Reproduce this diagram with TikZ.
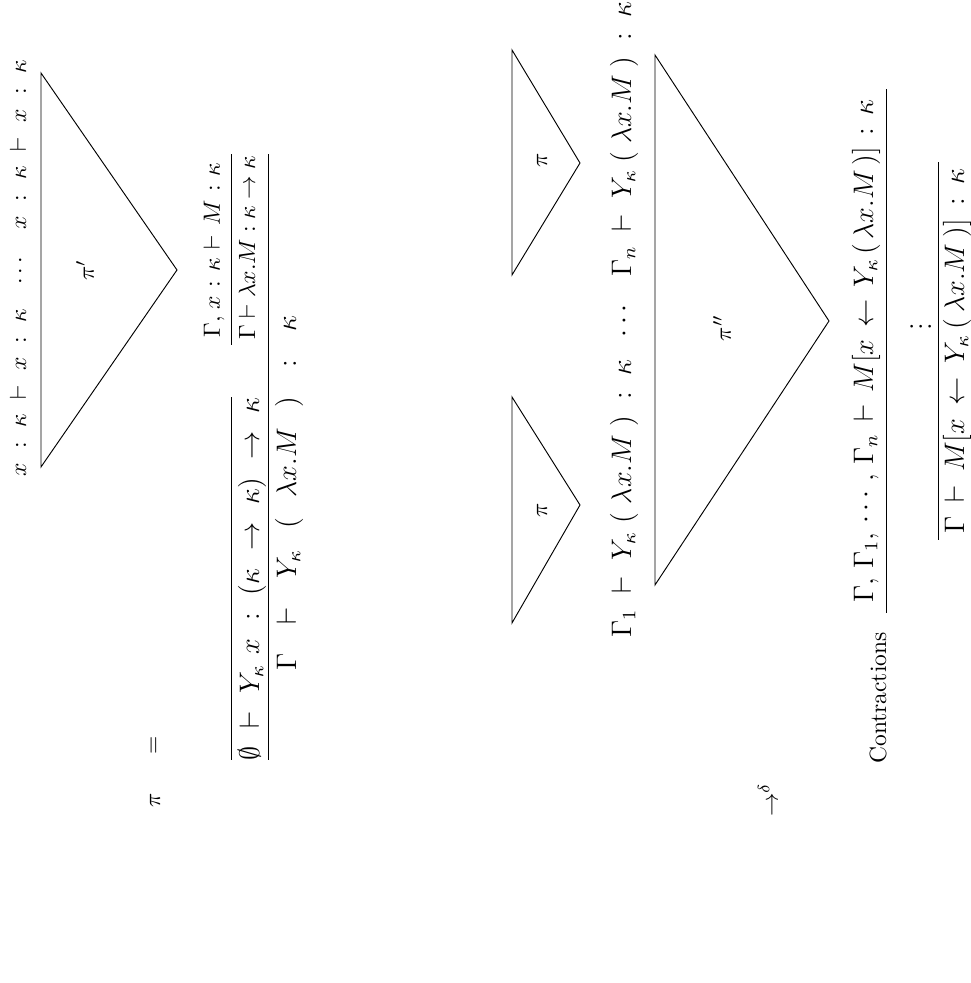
\documentclass[tikz,border=0pt]{standalone}
\usepackage{amsmath,amssymb}
\usetikzlibrary{positioning}
% one unit of the picture
\newdimen\px \px=0.4255pt
% a sequent stretched to a given length
\newcommand{\spread}[3][\normalsize]{\hbox to #2\px{#1$#3$}}

\begin{document}
\begin{tikzpicture}[x=0.4255pt,y=0.4255pt,rotate=90,transform shape]
    \useasboundingbox (0,0) rectangle (983,971);
    %% pi =
    \node (pi) at (183,816) {$\pi$};
    \node (eq) at (238,816) {$=$};
    %% leaves and pi'
    \node (leaves) at (715,953) {\hbox to 417\px{\spread{168}{x\hfil:\hfil\kappa\hfil\vdash\hfil x\hfil:\hfil\kappa}\hfil$\cdots$\hfil\spread{170}{x\hfil:\hfil\kappa\hfil\vdash\hfil x\hfil:\hfil\kappa}}};
    \draw (516,930)--(910,930)--(713,794)--cycle;
    \node (piprime) at (713,886) {$\pi'$};
    %% the Y rule
    \draw (223,740)--(586,740);
    \node (yax) at (404,719) {\spread[\large]{363}{\emptyset\hfil\vdash\hfil Y_\kappa\hfil x\hfil:\hfil(\kappa\hfil\to\hfil\kappa)\hfil\to\hfil\kappa}};
    %
    \node (body) at (733,757) {\spread{175}{\Gamma,\hfil x\hfil:\hfil\kappa\hfil\vdash\hfil M\hfil:\hfil\kappa}};
    \draw (638,740)--(829,740);
    \node (lam) at (728,724) {\spread{170}{\Gamma\hfil\vdash\hfil\lambda x.M\hfil:\hfil\kappa\hfil\to\hfil\kappa}};
    %
    \draw (223,703)--(829,703);
    \node (yapp) at (490,682) {\spread[\large]{355}{\Gamma\hfil\vdash\hfil Y_\kappa\hfil(\hfil\lambda x.M\hfil)\hfil:\hfil\kappa}};
    %% reduction
    \node (red) at (183,203) {$\to^\delta$};
    %% copies of pi
    \draw (586,459)--(360,459)--(478,391)--cycle;
    \node (pione) at (473,429) {$\pi$};
    \draw (933,459)--(708,459)--(820,391)--cycle;
    \node (pitwo) at (823,429) {$\pi$};
    \node (copies) at (663,347) {\large\hbox to 636\px{\spread[\large]{278}{\Gamma_1\hfil\vdash\hfil Y_\kappa\hfil(\hfil\lambda x.M\hfil)\hfil:\hfil\kappa}\hfil$\cdots$\hfil\spread[\large]{275}{\Gamma_n\hfil\vdash\hfil Y_\kappa\hfil(\hfil\lambda x.M\hfil)\hfil:\hfil\kappa}}};
    %% pi''
    \draw (928,316)--(398,316)--(662,142)--cycle;
    \node (pisecond) at (655,249) {$\pi''$};
    %% contractions
    \node (merged) at (632,105) {\spread[\large]{503}{\Gamma,\hfil\Gamma_1,\hfil\cdots,\hfil\Gamma_n\hfil\vdash\hfil M[x\hfil\leftarrow\hfil Y_\kappa\hfil(\hfil\lambda x.M\hfil)]\hfil:\hfil\kappa}};
    \draw (370,85)--(894,85);
    \node (contr) at (285,93) {Contractions};
    \node (vdots) at (656,57) {\large$\vdots$};
    \draw (443,33)--(821,33);
    \node (result) at (632,14) {\spread[\large]{365}{\Gamma\hfil\vdash\hfil M[x\hfil\leftarrow\hfil Y_\kappa\hfil(\hfil\lambda x.M\hfil)]\hfil:\hfil\kappa}};
\end{tikzpicture}
\end{document}
